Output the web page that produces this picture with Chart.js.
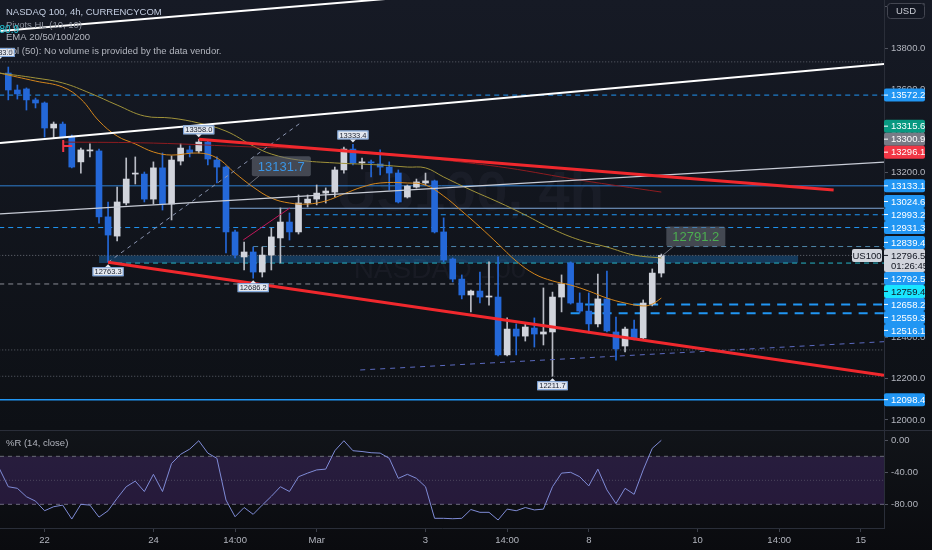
<!DOCTYPE html>
<html><head><meta charset="utf-8">
<script src="https://cdn.jsdelivr.net/npm/chart.js@4.4.1/dist/chart.umd.min.js"></script>
<style>
html,body{margin:0;padding:0;background:#131722;overflow:hidden}
#wrap{position:relative;width:932px;height:550px}
#main{position:absolute;left:0;top:0;background:linear-gradient(#161a25,#0d1015)}
#wr{position:absolute;left:0;top:430px;background:linear-gradient(#111419,#0a0b0f)}
</style></head><body>
<div id="wrap"><canvas id="main" width="932" height="430"></canvas><canvas id="wr" width="932" height="120"></canvas></div>
<script>
// ---------------- DATA ----------------
const opens = [13679,13597,13602,13549,13534,13413,13432,13369,13249,13302,
 13302,12983,12890,13050,13190,13190,13069,13220,13045,13253,
 13307,13302,13345,13258,13224,12910,12789,12813,12716,12798,
 12881,12958,12910,13050,13069,13098,13103,13210,13311,13244,
 13249,13239,13224,13195,13079,13127,13147,13157,12910,12779,
 12682,12605,12624,12595,12595,12315,12440,12406,12445,12416,
 12426,12595,12760,12566,12527,12465,12586,12426,12358,12440,
 12397,12561,12711];
const highs = [13708,13621,13607,13558,13539,13442,13442,13379,13316,13336,
 13311,13055,13127,13268,13273,13200,13249,13292,13278,13336,
 13326,13358,13350,13273,13229,12919,12861,12837,12837,12929,
 13026,13002,13089,13089,13137,13123,13224,13321,13333.4,13268,
 13258,13307,13249,13210,13137,13166,13195,13161,12978,12784,
 12702,12629,12716,12765,12789,12494,12465,12469,12494,12639,
 12619,12702,12765,12615,12615,12706,12721,12498,12450,12484,
 12581,12731,12803];
const lows = [13549,13553,13500,13510,13369,13365,13365,13220,13195,13273,
 12953,12763.3,12866,13041,13142,13055,13045,13016,12968,13234,
 13273,13292,13234,13147,12808,12784,12726,12686.2,12692,12726,
 12760,12871,12900,13031,13041,13050,13079,13195,13234,13215,
 13176,13186,13113,13050,13074,13122,13137,12905,12765,12668,
 12586,12523,12566,12556,12310,12310,12315,12382,12353,12363,
 12211.7,12523,12561,12518,12421,12450,12426,12290,12329,12387,
 12392,12552,12692];
const closes = [13597,13578,13549,13534,13413,13432,13369,13224,13307,13307,
 12983,12895,13055,13166,13195,13069,13220,13045,13258,13316,
 13292,13345,13263,13224,12910,12798,12813,12716,12798,12886,
 12958,12910,13050,13069,13098,13108,13210,13311,13244,13249,
 13244,13224,13195,13055,13132,13152,13157,12910,12774,12682,
 12605,12624,12595,12600,12315,12440,12406,12450,12416,12426,
 12595,12658,12566,12527,12465,12586,12431,12344,12440,12397,
 12566,12711,12796.5];

const wrStart = -1;
const wrValues = [-35,-58,-60,-70.5,-76,-88,-83,-81,-98.4,-80,
 -81,-96,-88,-72.5,-58,-51,-64,-42.5,-64,-29,
 -17.5,-11,-0.5,-16,-22.5,-74.6,-95.5,-84,-92.5,-81,
 -70,-58,-64,-45.5,-41,-37,-36,-13,-0.5,-13,
 -14,-15.5,-16,-22.5,-47.5,-42.5,-47.5,-58,-97.5,-97.5,
 -98,-97.5,-86.5,-90,-90,-99.6,-86,-88,-84,-87,
 -86,-58,-41,-40,-45.5,-57,-36,-62,-79,-60,
 -67.5,-37,-10,0];

const emaFastIdx = [-1,3,6,8,10,12,14,16,18,21,23,25,27,29,31,33,35,37,39,41,44,46,48,50,52,54,56,58,60,62,64,66,68,70,71,72];
const emaFastVal = [13679,13640,13611,13553,13447,13374,13336,13297,13282,13292,13268,13195,13127,13074,13050,13045,13060,13094,13127,13147,13147,13137,13084,13011,12934,12852,12769,12707,12673,12653,12624,12590,12566,12552,12561,12590];
const emaSlowIdx = [-1,3,6,9,12,15,18,21,24,27,29,32,36,41,44,46,48,51,54,57,60,63,66,69,72];
const emaSlowVal = [13679,13655,13631,13582,13524,13471,13461,13437,13398,13326,13287,13258,13244,13234,13224,13220,13176,13113,13055,12992,12924,12871,12837,12798,12784];
const emaLongIdx = [6,16,27,34,41,48,55,63,72];
const emaLongVal = [13345,13340,13321,13311,13292,13258,13220,13161,13103];

const timeTickIdx = [4,16,25,34,46,55,64,76,85,94];
const timeTickLabels = ['22','24','14:00','Mar','3','14:00','8','10','14:00','15'];
const priceTicks = [12000,12200,12400,12600,12800,13000,13200,13400,13600,13800,14000];
const wrTicks = [0,-40,-80];
const wrBands = [-20,-50,-80];

const levelPrices = [13733.0,13572.2,13133.1,13024.6,12993.2,12931.3,12839.4,12796.5,12759.4,12658.2,12559.3,12516.1,12339.0,12211.7,12098.4];
const levelFrom   = [-1,-1,-1,24.4,32.8,-1,27,-1,11,-1,63.6,62,-1,-1,-1];

const bandFrom = 10, bandTo = 87.1, bandTop = 12796.5, bandBottom = 12759.4;

const trendFromIdx   = [-0.915,-0.915,-0.915,21,11,11,38.8,25.9];
const trendFromPrice = [13882,13340,12997,13358,12763.3,12763.3,12242,12871];
const trendToIdx     = [50,96.55,96.55,91,96.55,32.2,96.55,31.05];
const trendToPrice   = [14068,13723,13248,13113,12216,13437,12379,13026];

const pivotIdx   = [-1,21,38,11,27,60];
const pivotPrice = [13733.0,13358.0,13333.4,12763.3,12686.2,12211.7];
const pivotHigh  = [true,true,true,false,false,false];

const calloutIdx   = [26.3,72];
const calloutPrice = [13131.7,12791.2];

const markIdx = 6, markPrice = 13326;

const tagPrices = [13572.2,13315.6,13300.9,13296.1,13133.1,13024.6,12993.2,12931.3,12839.4,12792.5,12759.4,12658.2,12559.3,12516.1,12098.4];
const tagKinds  = ['blue','green','gray','red','blue','blue','blue','blue','blue','blue','cyan','blue','blue','blue','blue'];
const countdown = '01:26:45';
const symbolShort = 'US100';
const currency = 'USD';
const legendLines = ['NASDAQ 100, 4h, CURRENCYCOM','Pivots HL (10, 10)','EMA 20/50/100/200','Vol (50): No volume is provided by the data vendor.'];
const emaTopLabel = '13780.9';
const wrTitle = '%R (14, close)';
const watermark = ['US100, 4h','NASDAQ 100'];

// ---------------- RENDER ----------------
const X_MIN = -0.915, X_MAX = 96.55;
const Y_MIN = 11951.6, Y_MAX = 14032.4;
const WR_MIN = -109.6, WR_MAX = 12.9;
const FONT = "'Liberation Sans', Arial, sans-serif";
Chart.defaults.font.family = FONT;
Chart.defaults.font.size = 9;
Chart.defaults.color = '#b2b5be';

const UP = '#d1d4dc', DN = '#2468d8';
const seg = (x0,y0,x1,y1) => [{x:x0,y:y0},{x:x1,y:y1}];
const candleCol = closes.map((c,i)=> c >= opens[i] ? UP : DN);
const wickCol = closes.map((c,i)=> c >= opens[i] ? '#b8bbc4' : DN);

const levelStyles = [
 {c:'#5d606b', w:1, d:[1,2]},
 {c:'#2196f3', w:1, d:[5,4]},
 {c:'#2f7fd0', w:1, d:[]},
 {c:'#7fa6d6', w:1, d:[]},
 {c:'#2196f3', w:1, d:[5,4]},
 {c:'#2196f3', w:1, d:[5,4]},
 {c:'#4f86a8', w:1, d:[5,4]},
 {c:'#6a6d78', w:1, d:[1,2]},
 {c:'#26b5c6', w:1, d:[5,4]},
 {c:'#8a8d96', w:1, d:[5,4]},
 {c:'#2196f3', w:2, d:[9,7]},
 {c:'#2196f3', w:2, d:[9,7]},
 {c:'#5d606b', w:1, d:[1,2]},
 {c:'#5d606b', w:1, d:[1,2]},
 {c:'#2196f3', w:1.5, d:[]}
];
const trendStyles = [
 {c:'#ffffff', w:2, d:[]},
 {c:'#ffffff', w:2, d:[]},
 {c:'#c8ccd6', w:1.2, d:[]},
 {c:'#f0282d', w:3, d:[]},
 {c:'#f0282d', w:3, d:[]},
 {c:'#8a94b0', w:1, d:[4,4]},
 {c:'#5c6bc0', w:1, d:[5,5]},
 {c:'#c2185b', w:1, d:[]}
];

const ds = [];
ds.push({type:'line', data:seg(bandFrom,bandTop,bandTo,bandTop), borderColor:'rgba(0,0,0,0)', borderWidth:1, pointRadius:0, fill:'+1', backgroundColor:'rgba(33,150,243,0.30)', order:7});
ds.push({type:'line', data:seg(bandFrom,bandBottom,bandTo,bandBottom), borderColor:'rgba(0,0,0,0)', borderWidth:1, pointRadius:0, fill:false, order:7});
levelPrices.forEach((p,k)=>{
  const s = levelStyles[k];
  ds.push({type:'line', data:seg(levelFrom[k],p,X_MAX,p), borderColor:s.c, borderWidth:s.w, borderDash:s.d, pointRadius:0, fill:false, order:6});
});
ds.push({type:'bar', data:opens.map((o,i)=>({x:i,y:[lows[i],highs[i]]})), backgroundColor:wickCol, barThickness:1, minBarLength:1, grouped:false, order:5});
ds.push({type:'bar', data:opens.map((o,i)=>({x:i,y:[Math.min(o,closes[i]),Math.max(o,closes[i])]})), backgroundColor:candleCol, barThickness:6, minBarLength:1, grouped:false, order:4});
const emaLine = (idx,val,col,w)=>({type:'line', data:idx.map((x,k)=>({x, y:val[k]})), borderColor:col, borderWidth:w, pointRadius:0, tension:0.4, fill:false, order:3});
ds.push(emaLine(emaLongIdx, emaLongVal, '#8e1c20', 1));
ds.push(emaLine(emaSlowIdx, emaSlowVal, '#a0933a', 1));
ds.push(emaLine(emaFastIdx, emaFastVal, '#d4861c', 1));
trendFromIdx.forEach((x0,k)=>{
  const s = trendStyles[k];
  ds.push({type:'line', data:seg(x0,trendFromPrice[k],trendToIdx[k],trendToPrice[k]), borderColor:s.c, borderWidth:s.w, borderDash:s.d, pointRadius:0, fill:false, order:k===3||k===4?1:2});
});

function rrect(ctx,x,y,w,h,r){ctx.beginPath();ctx.moveTo(x+r,y);ctx.lineTo(x+w-r,y);ctx.quadraticCurveTo(x+w,y,x+w,y+r);ctx.lineTo(x+w,y+h-r);ctx.quadraticCurveTo(x+w,y+h,x+w-r,y+h);ctx.lineTo(x+r,y+h);ctx.quadraticCurveTo(x,y+h,x,y+h-r);ctx.lineTo(x,y+r);ctx.quadraticCurveTo(x,y,x+r,y);ctx.closePath();}

const tagColors = {blue:['#2196f3','#ffffff'], green:['#089981','#ffffff'], gray:['#787b86','#ffffff'], red:['#f23645','#ffffff'], cyan:['#18e6ff','#131722']};

function noPad(s){ s.paddingTop = 0; s.paddingBottom = 0; s.paddingLeft = 0; s.paddingRight = 0; }

const mainOverlay = {
  id:'mainOverlay',
  beforeDatasetsDraw(chart){
    const {ctx, chartArea:a} = chart;
    ctx.save();
    ctx.beginPath(); ctx.rect(a.left,a.top,a.right-a.left,a.bottom-a.top); ctx.clip();
    ctx.fillStyle = 'rgba(150,160,190,0.06)';
    ctx.textAlign='center'; ctx.textBaseline='middle';
    ctx.font = 'bold 56px '+FONT; ctx.fillText(watermark[0], 470, 195);
    ctx.font = '28px '+FONT; ctx.fillText(watermark[1], 440, 270);
    ctx.restore();
  },
  afterDatasetsDraw(chart){
    const {ctx} = chart; const xs = chart.scales.x, ys = chart.scales.y;
    ctx.save();
    const mx = xs.getPixelForValue(markIdx)+0.5, my = ys.getPixelForValue(markPrice);
    ctx.strokeStyle='#f23645'; ctx.lineWidth=2;
    ctx.beginPath(); ctx.moveTo(mx,my-6); ctx.lineTo(mx,my+6); ctx.moveTo(mx,my); ctx.lineTo(mx+9,my); ctx.stroke();
    ctx.font = '7.5px '+FONT; ctx.textAlign='center'; ctx.textBaseline='middle';
    pivotIdx.forEach((i,k)=>{
      const px = xs.getPixelForValue(i), py = ys.getPixelForValue(pivotPrice[k]);
      const txt = pivotPrice[k].toFixed(1);
      const w = ctx.measureText(txt).width + 4, h = 9;
      const bx = px - w/2, by = pivotHigh[k] ? py - 5 - h : py + 5;
      ctx.fillStyle='#e4e8ef'; ctx.fillRect(bx,by,w,h);
      ctx.strokeStyle='#5b8fd6'; ctx.lineWidth=0.8; ctx.strokeRect(bx+0.5,by+0.5,w-1,h-1);
      ctx.beginPath();
      if(pivotHigh[k]){ctx.moveTo(px-3,by+h);ctx.lineTo(px+3,by+h);ctx.lineTo(px,by+h+3);}
      else {ctx.moveTo(px-3,by);ctx.lineTo(px+3,by);ctx.lineTo(px,by-3);}
      ctx.fillStyle='#e4e8ef'; ctx.fill();
      ctx.fillStyle='#1a2233'; ctx.fillText(txt, px, by+h/2+0.5);
    });
    const cCol = ['#3a95e6','#4caf50'];
    ctx.font = '13px '+FONT;
    calloutIdx.forEach((i,k)=>{
      const ax = xs.getPixelForValue(i), ay = ys.getPixelForValue(calloutPrice[k]);
      const txt = calloutPrice[k].toFixed(1);
      const w = ctx.measureText(txt).width + 12, h = 20;
      const bx = ax + 5, by = ay - 10 - h;
      ctx.strokeStyle='#6d707a'; ctx.lineWidth=1;
      ctx.beginPath(); ctx.moveTo(ax,ay); ctx.lineTo(bx+7,by+h); ctx.stroke();
      ctx.fillStyle='rgba(110,114,126,0.55)'; rrect(ctx,bx,by,w,h,2); ctx.fill();
      ctx.fillStyle=cCol[k]; ctx.textAlign='center'; ctx.textBaseline='middle';
      ctx.fillText(txt, bx+w/2, by+h/2+1);
    });
    ctx.restore();
  },
  afterDraw(chart){
    const {ctx} = chart; const ys = chart.scales.y;
    ctx.save();
    ctx.textAlign='left'; ctx.textBaseline='middle';
    const lc = ['#c3cde0','#8e939f','#b2b5be','#b2b5be'];
    const ly = [12,25,37.5,51];
    legendLines.forEach((t,k)=>{ ctx.font = '9.5px '+FONT; ctx.fillStyle=lc[k]; ctx.fillText(t,6,ly[k]); });
    ctx.textAlign='right'; ctx.fillStyle='#22c5d6'; ctx.font='10px '+FONT; ctx.fillText(emaTopLabel,19,30);
    const last = closes[closes.length-1];
    const items = tagPrices.map((p,k)=>({p, y:ys.getPixelForValue(p), h:13, kind:tagKinds[k]}));
    items.push({p:last, y:ys.getPixelForValue(last), h:23, cur:true});
    items.sort((a,b)=>b.p-a.p);
    items.forEach(t=>{ t.top = t.y - 6.5; });
    const ci = items.findIndex(t=>t.cur);
    for(let j=ci-1;j>=0;j--){ const lim = items[j+1].top; if(items[j].top+items[j].h>lim) items[j].top = lim-items[j].h; }
    for(let j=ci+1;j<items.length;j++){ const lim = items[j-1].top+items[j-1].h; if(items[j].top<lim) items[j].top = lim; }
    ctx.font = '9.5px '+FONT; ctx.textAlign='left'; ctx.textBaseline='middle';
    items.forEach(t=>{
      const [bg,fg] = t.cur ? ['#d1d4dc','#131722'] : tagColors[t.kind];
      ctx.fillStyle=bg; rrect(ctx,884,t.top,41,t.h,2); ctx.fill();
      ctx.strokeStyle=fg; ctx.lineWidth=1; ctx.beginPath(); ctx.moveTo(884,t.top+6.5); ctx.lineTo(888,t.top+6.5); ctx.stroke();
      ctx.fillStyle=fg; ctx.fillText(t.p.toFixed(1), 891, t.top+7);
      if(t.cur) ctx.fillText(countdown, 891, t.top+17.5);
    });
    const cy = ys.getPixelForValue(last);
    ctx.fillStyle='#d1d4dc'; rrect(ctx,852,cy-6.5,30,13,2); ctx.fill();
    ctx.fillStyle='#131722'; ctx.textAlign='center'; ctx.fillText(symbolShort, 867, cy+0.5);
    ctx.fillStyle='#131722'; rrect(ctx,887,3,38,16,3); ctx.fill();
    ctx.strokeStyle='#434651'; ctx.lineWidth=1; rrect(ctx,887.5,3.5,37,15,3); ctx.stroke();
    ctx.fillStyle='#c9ccd4'; ctx.font='9.5px '+FONT; ctx.fillText(currency, 906, 11.5);
    ctx.restore();
  }
};

new Chart(document.getElementById('main'), {
  type:'bar',
  data:{datasets:ds},
  options:{
    responsive:false, animation:false, events:[],
    layout:{padding:0},
    plugins:{legend:{display:false}, tooltip:{enabled:false}},
    scales:{
      x:{type:'linear', min:X_MIN, max:X_MAX, offset:false, display:false},
      y:{type:'linear', position:'right', min:Y_MIN, max:Y_MAX,
        afterFit(s){ s.width = 48; noPad(s); },
        afterBuildTicks(s){ s.ticks = priceTicks.map(v=>({value:v})); },
        ticks:{callback:v=>Number(v).toFixed(1), color:'#b2b5be', padding:3, font:{size:9.5}},
        grid:{drawOnChartArea:false, drawTicks:true, tickLength:4, color:'#50535e'},
        border:{display:true, color:'#2a2e39'}}
    }
  },
  plugins:[mainOverlay]
});

// ----- %R panel -----
const wrDs = [];
wrDs.push({type:'line', data:wrValues.map((v,k)=>({x:k+wrStart, y:v})), borderColor:'#7f8bd6', borderWidth:1, pointRadius:0, tension:0, fill:false, order:0});
wrDs.push({type:'line', data:seg(X_MIN,wrBands[0],X_MAX,wrBands[0]), borderColor:'#6a6d78', borderWidth:1, borderDash:[4,4], pointRadius:0, fill:'+1', backgroundColor:'rgba(126,70,200,0.22)', order:2});
wrDs.push({type:'line', data:seg(X_MIN,wrBands[2],X_MAX,wrBands[2]), borderColor:'#6a6d78', borderWidth:1, borderDash:[4,4], pointRadius:0, fill:false, order:3});
wrDs.push({type:'line', data:seg(X_MIN,wrBands[1],X_MAX,wrBands[1]), borderColor:'rgba(120,123,134,0.45)', borderWidth:1, borderDash:[1,2], pointRadius:0, fill:false, order:1});

const wrOverlay = {
  id:'wrOverlay',
  afterDraw(chart){
    const {ctx} = chart;
    ctx.save();
    ctx.strokeStyle='#2a2e39'; ctx.lineWidth=1;
    ctx.beginPath(); ctx.moveTo(0,0.5); ctx.lineTo(932,0.5); ctx.stroke();
    ctx.fillStyle='#b2b5be'; ctx.font='9.5px '+FONT; ctx.textAlign='left'; ctx.textBaseline='middle';
    ctx.fillText(wrTitle, 6, 13);
    ctx.restore();
  }
};

new Chart(document.getElementById('wr'), {
  type:'line',
  data:{datasets:wrDs},
  options:{
    responsive:false, animation:false, events:[],
    layout:{padding:0},
    plugins:{legend:{display:false}, tooltip:{enabled:false}},
    scales:{
      x:{type:'linear', min:X_MIN, max:X_MAX, offset:false,
        afterFit(s){ s.height = 22; noPad(s); },
        afterBuildTicks(s){ s.ticks = timeTickIdx.map(v=>({value:v})); },
        ticks:{autoSkip:false, maxRotation:0, padding:3, color:'#b2b5be', font:{size:9.5},
          callback:v=>{ const k = timeTickIdx.indexOf(v); return k>=0 ? timeTickLabels[k] : ''; }},
        grid:{drawOnChartArea:false, drawTicks:true, tickLength:4, color:'#3a3e48'},
        border:{display:true, color:'#2a2e39'}},
      y:{type:'linear', position:'right', min:WR_MIN, max:WR_MAX,
        afterFit(s){ s.width = 48; noPad(s); },
        afterBuildTicks(s){ s.ticks = wrTicks.map(v=>({value:v})); },
        ticks:{callback:v=>Number(v).toFixed(2), color:'#b2b5be', padding:3, font:{size:9.5}},
        grid:{drawOnChartArea:false, drawTicks:true, tickLength:4, color:'#50535e'},
        border:{display:true, color:'#2a2e39'}}
    }
  },
  plugins:[wrOverlay]
});
</script>
</body></html>
